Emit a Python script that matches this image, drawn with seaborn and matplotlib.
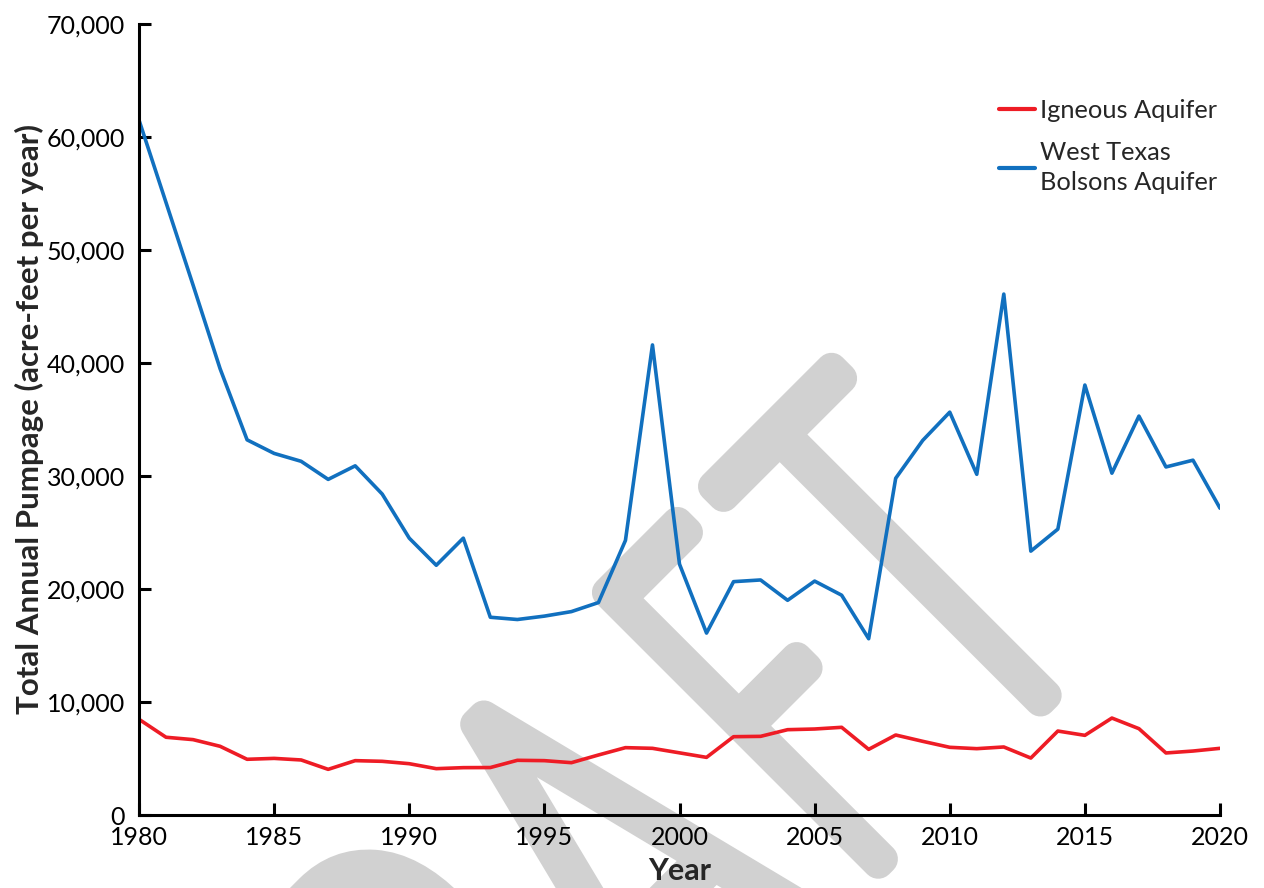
import matplotlib
matplotlib.use("Agg")
import matplotlib.pyplot as plt
import seaborn as sns
import pandas as pd
from matplotlib.ticker import FuncFormatter, MultipleLocator
from matplotlib.textpath import TextPath
from matplotlib.font_manager import FontProperties
from matplotlib.patches import PathPatch
from matplotlib.transforms import Affine2D

years = list(range(1980, 2021))

igneous = [8470, 6880, 6670, 6080, 4930, 5010, 4870, 4040, 4810, 4750,
           4540, 4100, 4190, 4200, 4840, 4810, 4630, 5310, 5960, 5900,
           5500, 5100, 6930, 6960, 7550, 7610, 7760, 5810, 7080, 6520,
           5990, 5870, 6020, 5040, 7430, 7050, 8580, 7640, 5490, 5660,
           5900]

bolsons = [61500, 54200, 46900, 39500, 33200, 32000, 31300, 29700, 30900, 28400,
           24500, 22100, 24500, 17500, 17300, 17600, 18000, 18800, 24300, 41600,
           22200, 16100, 20650, 20800, 19000, 20700, 19450, 15600, 29800, 33150,
           35650, 30150, 46100, 23350, 25300, 38050, 30250, 35300, 30800, 31400,
           27150]

series_names = ["Igneous Aquifer", "West Texas\nBolsons Aquifer"]
series_colors = ["#EE1C25", "#1170BF"]

watermark_text = "DRAFT"

df = pd.concat([
    pd.DataFrame({"Year": years, "Pumpage": igneous, "Aquifer": series_names[0]}),
    pd.DataFrame({"Year": years, "Pumpage": bolsons, "Aquifer": series_names[1]}),
])

sns.set_style("ticks")
plt.rcParams["font.family"] = ["Lato", "DejaVu Sans"]

DPI = 100
fig = plt.figure(figsize=(12.64, 8.88), dpi=DPI)
ax = fig.add_axes([139 / 1264, 1 - 815 / 888, (1220 - 139) / 1264, (815 - 24) / 888])

# Diagonal watermark: each letter is a thin glyph outline stroked with a wide
# round-joined pen, laid out along a 45-degree baseline (pixel units).
wm_color = "#D1D1D1"
wm_prop = FontProperties(family="Roboto", weight=100)
pen = 31                       # stroke width in pixels
base_h = -619 + pen / 2        # baseline offset across the rotated line
cap_total = 414
cap_ratio = TextPath((0, 0), "T", size=1, prop=wm_prop).get_extents().height
em_y = (cap_total - pen) / cap_ratio
# letter centre along the baseline and overall letter width, in pixels
letter_centres = [-20, 225, 458, 688, 872]
letter_widths = [210, 215, 235, 130, 198]
for ch, sc, wd in zip(watermark_text, letter_centres, letter_widths):
    gp = TextPath((0, 0), ch, size=1, prop=wm_prop)
    ext = gp.get_extents()
    sx = (wd - pen) / ext.width
    tr = (Affine2D().translate(-(ext.x0 + ext.x1) / 2, 0)
          .scale(sx, em_y)
          .translate(sc, base_h)
          .rotate_deg(45))
    fig.add_artist(PathPatch(gp, transform=tr, facecolor=wm_color,
                             edgecolor=wm_color, linewidth=pen * 72 / DPI,
                             joinstyle="round", capstyle="round", zorder=0))

ax.set_facecolor("none")
ax.set_zorder(1)

sns.lineplot(data=df, x="Year", y="Pumpage", hue="Aquifer",
             palette=series_colors, hue_order=series_names,
             linewidth=2.6, ax=ax, legend=True)

ax.set_xlim(1980, 2020)
ax.set_ylim(0, 70000)
ax.xaxis.set_major_locator(MultipleLocator(5))
ax.yaxis.set_major_locator(MultipleLocator(10000))
ax.yaxis.set_major_formatter(FuncFormatter(lambda v, p: f"{int(v):,}"))

for side in ("top", "right"):
    ax.spines[side].set_visible(False)
for side in ("left", "bottom"):
    ax.spines[side].set_linewidth(2.2)
    ax.spines[side].set_color("black")
    ax.spines[side].set_capstyle("projecting")

ax.tick_params(axis="both", direction="in", length=8.5, width=2.2,
               labelsize=18, colors="black")
ax.tick_params(axis="y", pad=10)
ax.tick_params(axis="x", pad=8)

ax.set_xlabel("Year", fontsize=22, fontweight="bold", labelpad=6)
ax.set_ylabel("Total Annual Pumpage (acre-feet per year)", fontsize=22.5,
              fontweight="bold", labelpad=2)

leg = ax.legend(loc="upper right", bbox_to_anchor=(1240 / 1264, 1 - 76 / 888),
                bbox_transform=fig.transFigure, frameon=False, fontsize=18.3,
                handlelength=1.4, handletextpad=0.2, labelspacing=0.75)
for line in leg.get_lines():
    line.set_linewidth(3)
for t in leg.get_texts():
    t.set_linespacing(1.35)

fig.savefig("out.png", dpi=DPI)
